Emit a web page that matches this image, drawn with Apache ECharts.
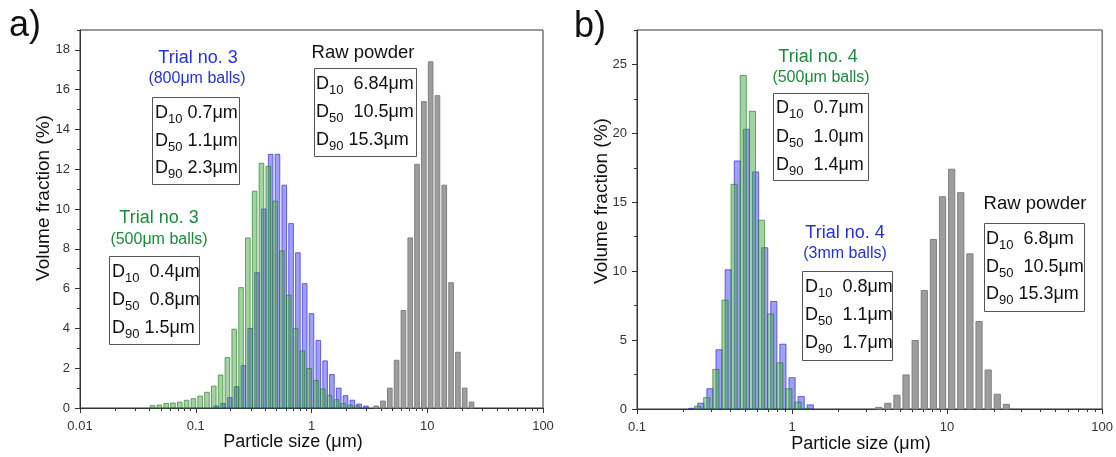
<!DOCTYPE html>
<html><head><meta charset="utf-8">
<script src="https://cdn.jsdelivr.net/npm/echarts@6/dist/echarts.min.js"></script>
<style>html,body{margin:0;padding:0;background:#fff}#c{width:1116px;height:457px}</style>
</head><body><div id="c"></div>
<script>
// ================= DATA =================
// Panel a) particle-size bins (µm) and volume fractions (%)
const aTrialSizes500 = [0.0444,0.0508,0.0582,0.0666,0.0763,0.0873,0.1,0.1145,0.1311,0.1501,0.1719,0.1968,0.2254,0.2581,0.2955,0.3384,0.3875,0.4437,0.508,0.5817,0.6661,0.7627,0.8733,1,1.145,1.311,1.501,1.719,1.968,2.254,2.581];
const aTrial3_500 = [0.12,0.15,0.23,0.25,0.3,0.39,0.47,0.6,0.79,1.1,1.66,2.54,3.96,6.05,8.55,10.9,12.3,12.15,10.4,7.9,5.67,4.0,2.87,1.98,1.38,0.96,0.64,0.42,0.23,0.15,0.12];
const aTrialSizes800 = [0.1501,0.1719,0.1968,0.2254,0.2581,0.2955,0.3384,0.3875,0.4437,0.508,0.5817,0.6661,0.7627,0.8733,1,1.145,1.311,1.501,1.719,1.968,2.254,2.581,2.955];
const aTrial3_800 = [0.1,0.23,0.52,1.07,2.13,4.0,6.8,10.0,12.75,12.75,11.2,9.27,7.8,6.25,4.74,3.4,2.37,1.68,1.0,0.62,0.39,0.2,0.1];
const rawSizes = [3.621,4.146,4.748,5.436,6.225,7.128,8.161,9.345,10.70,12.25,14.03,16.07,18.40,21.06,24.12];
const aRaw = [0.1,0.35,1.0,2.4,4.9,8.55,12.25,15.4,17.4,15.7,11.2,6.3,2.8,1.0,0.3];

// Panel b)
const bTrialSizes500 = [0.2581,0.2955,0.3384,0.3875,0.4437,0.508,0.5817,0.6661,0.7627,0.8733,1,1.145,1.311];
const bTrial4_500 = [0.2,0.82,2.87,7.9,16.3,24.2,21.6,13.7,6.9,3.35,1.47,0.5,0.05];
const bTrialSizes3mm = [0.2254,0.2581,0.2955,0.3384,0.3875,0.4437,0.508,0.5817,0.6661,0.7627,0.8733,1,1.145,1.311];
const bTrial4_3mm = [0.05,0.42,1.47,4.3,10.1,18.0,20.3,17.2,11.7,7.8,4.7,2.27,0.9,0.3];
const bRaw = [0.12,0.41,1.0,2.47,4.97,8.6,12.3,15.4,17.4,15.7,11.26,6.35,2.83,1.07,0.34];

// Tick labels
const aXTicks = [0.01,0.1,1,10,100];
const bXTicks = [0.1,1,10,100];
const aYTicks = [0,2,4,6,8,10,12,14,16,18];
const bYTicks = [0,5,10,15,20,25];

// Annotation texts
const aBlueTitle = ['Trial no. 3','(800μm balls)'];
const aBlueD = [['10',' 0.7μm'],['50',' 1.1μm'],['90',' 2.3μm']];
const aGreenTitle = ['Trial no. 3','(500μm balls)'];
const aGreenD = [['10','  0.4μm'],['50','  0.8μm'],['90',' 1.5μm']];
const aRawTitle = 'Raw powder';
const aRawD = [['10','  6.84μm'],['50','  10.5μm'],['90',' 15.3μm']];
const bGreenTitle = ['Trial no. 4','(500μm balls)'];
const bGreenD = [['10','  0.7μm'],['50','  1.0μm'],['90','  1.4μm']];
const bBlueTitle = ['Trial no. 4','(3mm balls)'];
const bBlueD = [['10','  0.8μm'],['50','  1.1μm'],['90','  1.7μm']];
const bRawTitle = 'Raw powder';
const bRawD = [['10','  6.8μm'],['50','  10.5μm'],['90',' 15.3μm']];

// ================= STYLE / LAYOUT =================
const FONT = '"Liberation Sans", Arial, sans-serif';
const AX = '#333';
const BINS_PER_DECADE = 17;
const BAR_FRAC = 0.68;
const BLUE_FILL = 'rgba(80,80,245,0.55)', BLUE_STROKE = 'rgba(50,50,200,0.7)';
const GREEN_FILL = 'rgba(70,170,70,0.5)', GREEN_STROKE = 'rgba(40,120,40,0.65)';
const GRAY_FILL = '#9d9d9d', GRAY_STROKE = '#808080';
const BLUE_TXT = '#2632d0', GREEN_TXT = '#1b8a3c';

function logMinors(lo, hi) {
  const out = [];
  for (let d = lo; d < hi * 0.999; d *= 10) for (let m = 2; m <= 9; m++) out.push(+(d * m).toPrecision(3));
  return out;
}

function bars(xi, yi, sizes, values, fill, stroke, shiftBins) {
  const half = Math.pow(10, BAR_FRAC / 2 / BINS_PER_DECADE);
  const shift = Math.pow(10, shiftBins / BINS_PER_DECADE);
  return {
    type: 'custom', xAxisIndex: xi, yAxisIndex: yi,
    data: sizes.map((s, i) => [s, values[i]]),
    encode: { x: 0, y: 1 },
    renderItem(params, api) {
      const x = api.value(0) * shift, y = api.value(1);
      const lo = api.coord([x / half, 0]);
      const hi = api.coord([x * half, y]);
      return { type: 'rect',
        shape: { x: lo[0], y: hi[1], width: hi[0] - lo[0], height: lo[1] - hi[1] },
        style: { fill, stroke, lineWidth: 1 } };
    }
  };
}

function mainX(grid, min, max, ticks) {
  return { type: 'log', logBase: 10, gridIndex: grid, min, max, position: 'bottom',
    axisLine: { show: true, onZero: false, lineStyle: { color: AX, width: 1 } },
    axisTick: { show: true, inside: false, length: 5, customValues: ticks, lineStyle: { color: AX } },
    axisLabel: { color: AX, fontSize: 13, fontFamily: FONT, margin: 12, customValues: ticks,
      formatter: v => String(+v) },
    splitLine: { show: false } };
}
function minorX(grid, min, max, vals) {
  return { type: 'log', logBase: 10, gridIndex: grid, min, max, position: 'bottom',
    axisLine: { show: false }, axisLabel: { show: false }, splitLine: { show: false },
    axisTick: { show: true, inside: false, length: 3, customValues: vals, lineStyle: { color: AX } } };
}
function mainY(grid, max, ticks) {
  return { type: 'value', gridIndex: grid, min: 0, max, position: 'left',
    axisLine: { show: true, onZero: false, lineStyle: { color: AX, width: 1 } },
    axisTick: { show: true, inside: false, length: 5, customValues: ticks, lineStyle: { color: AX } },
    axisLabel: { color: AX, fontSize: 13, fontFamily: FONT, margin: 10, customValues: ticks },
    splitLine: { show: false } };
}
function minorY(grid, max, vals) {
  return { type: 'value', gridIndex: grid, min: 0, max, position: 'left',
    axisLine: { show: false }, axisLabel: { show: false }, splitLine: { show: false },
    axisTick: { show: true, inside: false, length: 3, customValues: vals, lineStyle: { color: AX } } };
}

function txt(x, y, text, size, color, align, extra) {
  return Object.assign({ type: 'text', x, y, z: 100,
    style: { text, fill: color, font: size + 'px ' + FONT, textAlign: align || 'center', textVerticalAlign: 'middle' } }, extra || {});
}
function dBox(bx, by, bw, bh, tx, ys, lines) {
  const els = [{ type: 'rect', z: 100, shape: { x: bx + 0.5, y: by + 0.5, width: bw, height: bh },
    style: { fill: '#fff', stroke: '#555', lineWidth: 1 } }];
  lines.forEach((l, i) => {
    els.push({ type: 'text', x: tx, y: ys[i], z: 101,
      style: { text: '{d|D}{s|' + l[0] + '}{d|' + l[1] + '}', textAlign: 'left', textVerticalAlign: 'middle',
        rich: { d: { fontSize: 18, fontFamily: FONT, fill: '#111', lineHeight: 26 },
                s: { fontSize: 13, fontFamily: FONT, fill: '#111', lineHeight: 12, verticalAlign: 'bottom' } } } });
  });
  return els;
}

const graphic = [].concat(
  [txt(9, 26, 'a)', 36, '#111', 'left'), txt(574, 27, 'b)', 36, '#111', 'left')],
  [txt(293, 442, 'Particle size (μm)', 18, '#111'), txt(861, 444, 'Particle size (μm)', 18, '#111')],
  [txt(44, 198, 'Volume fraction (%)', 19, '#111', 'center', { rotation: Math.PI / 2 }),
   txt(602, 201, 'Volume fraction (%)', 19, '#111', 'center', { rotation: Math.PI / 2 })],
  // panel a annotations
  [txt(198, 58, aBlueTitle[0], 18, BLUE_TXT), txt(197, 79, aBlueTitle[1], 16, BLUE_TXT)],
  dBox(152, 97, 87, 87, 155, [113, 141, 168], aBlueD),
  [txt(363, 53, aRawTitle, 18.5, '#111')],
  dBox(314, 68, 102, 88, 316, [84, 112, 140], aRawD),
  [txt(159, 218, aGreenTitle[0], 18, GREEN_TXT), txt(159, 240, aGreenTitle[1], 16, GREEN_TXT)],
  dBox(109, 256, 90, 88, 112, [272, 300, 328], aGreenD),
  // panel b annotations
  [txt(818, 57, bGreenTitle[0], 18, GREEN_TXT), txt(821, 78, bGreenTitle[1], 16, GREEN_TXT)],
  dBox(773, 93, 95, 87, 776, [108, 137, 165], bGreenD),
  [txt(845, 233, bBlueTitle[0], 18, BLUE_TXT), txt(845, 254, bBlueTitle[1], 16, BLUE_TXT)],
  dBox(802, 271, 90, 89, 805, [287, 315, 343], bBlueD),
  [txt(1035, 204, bRawTitle, 18.5, '#111')],
  dBox(984, 223, 100, 88, 986, [239, 267, 294], bRawD)
);

const chart = echarts.init(document.getElementById('c'), null, { renderer: 'canvas' });
chart.setOption({
  animation: false,
  backgroundColor: '#fff',
  grid: [
    { left: 80, right: 573, top: 30, bottom: 49, show: true, borderColor: AX, borderWidth: 1 },
    { left: 637, right: 13, top: 30, bottom: 48, show: true, borderColor: AX, borderWidth: 1 }
  ],
  xAxis: [
    mainX(0, 0.01, 100, aXTicks), minorX(0, 0.01, 100, logMinors(0.01, 100)),
    mainX(1, 0.1, 100, bXTicks), minorX(1, 0.1, 100, logMinors(0.1, 100))
  ],
  yAxis: [
    mainY(0, 19, aYTicks), minorY(0, 19, [1,3,5,7,9,11,13,15,17,19]),
    mainY(1, 27.5, bYTicks), minorY(1, 27.5, [2.5,7.5,12.5,17.5,22.5,27.5])
  ],
  series: [
    bars(0, 0, aTrialSizes800, aTrial3_800, BLUE_FILL, BLUE_STROKE, 0),
    bars(0, 0, aTrialSizes500, aTrial3_500, GREEN_FILL, GREEN_STROKE, -0.35),
    bars(0, 0, rawSizes, aRaw, GRAY_FILL, GRAY_STROKE, 0),
    bars(2, 2, bTrialSizes3mm, bTrial4_3mm, BLUE_FILL, BLUE_STROKE, 0),
    bars(2, 2, bTrialSizes500, bTrial4_500, GREEN_FILL, GREEN_STROKE, -0.35),
    bars(2, 2, rawSizes, bRaw, GRAY_FILL, GRAY_STROKE, 0)
  ],
  graphic
});
</script></body></html>
